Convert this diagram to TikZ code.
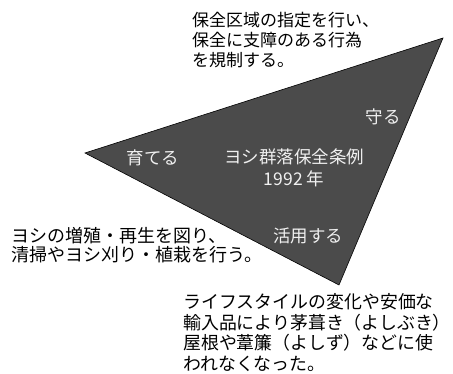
\documentclass[tikz,border=0pt]{standalone}
\usepackage{fontspec}
\setmainfont{Noto Sans CJK JP}
\newfontfamily\paltfont[RawFeature=+palt]{Noto Sans CJK JP}
\definecolor{trifill}{HTML}{4B4B4B}
\definecolor{innertext}{HTML}{F0F0F0}
\begin{document}
\begin{tikzpicture}[x=1pt,y=-1pt,
  outer/.style={anchor=north west,inner sep=0pt,align=left,text=black},
  inner/.style={inner sep=0pt,text=innertext,align=center}]
\useasboundingbox (0,0) rectangle (453,374);
\coordinate (tr) at (443,38);
\coordinate (lf) at (85,153);
\coordinate (bt) at (339,285);
\fill[trifill,draw=black,line width=0.6pt] (tr) -- (lf) -- (bt) -- cycle;
\node[inner,font=\fontsize{17.5}{20}\selectfont] (mamoru) at (383,117) {守る};
\node[inner,font=\fontsize{17.5}{20}\selectfont] (sodateru) at (153,158) {育てる};
\node[inner,font=\fontsize{17.5}{21.5}\selectfont] (jorei) at (294,168) {ヨシ群落保全条例\\1992 年};
\node[inner,font=\fontsize{17.5}{20}\selectfont] (katsuyo) at (308,236) {活用する};
\node[outer,font=\fontsize{17}{20}\selectfont] (top) at (192,12) {保全区域の指定を行い、\\保全に支障のある行為\\を規制する。};
\node[outer,font=\fontsize{18}{19.5}\selectfont] (left) at (11,227) {ヨシの増殖・再生を図り、\\清掃やヨシ刈り・植栽を行う。};
\node[outer,font=\fontsize{17.9}{20.8}\selectfont] (bottom) at (183,293) {ライフスタイルの変化や安価な\\輸入品により茅葺き（よしぶき{\paltfont ）}\\屋根や葦簾（よしず）などに使\\われなくなった。};
\end{tikzpicture}
\end{document}
